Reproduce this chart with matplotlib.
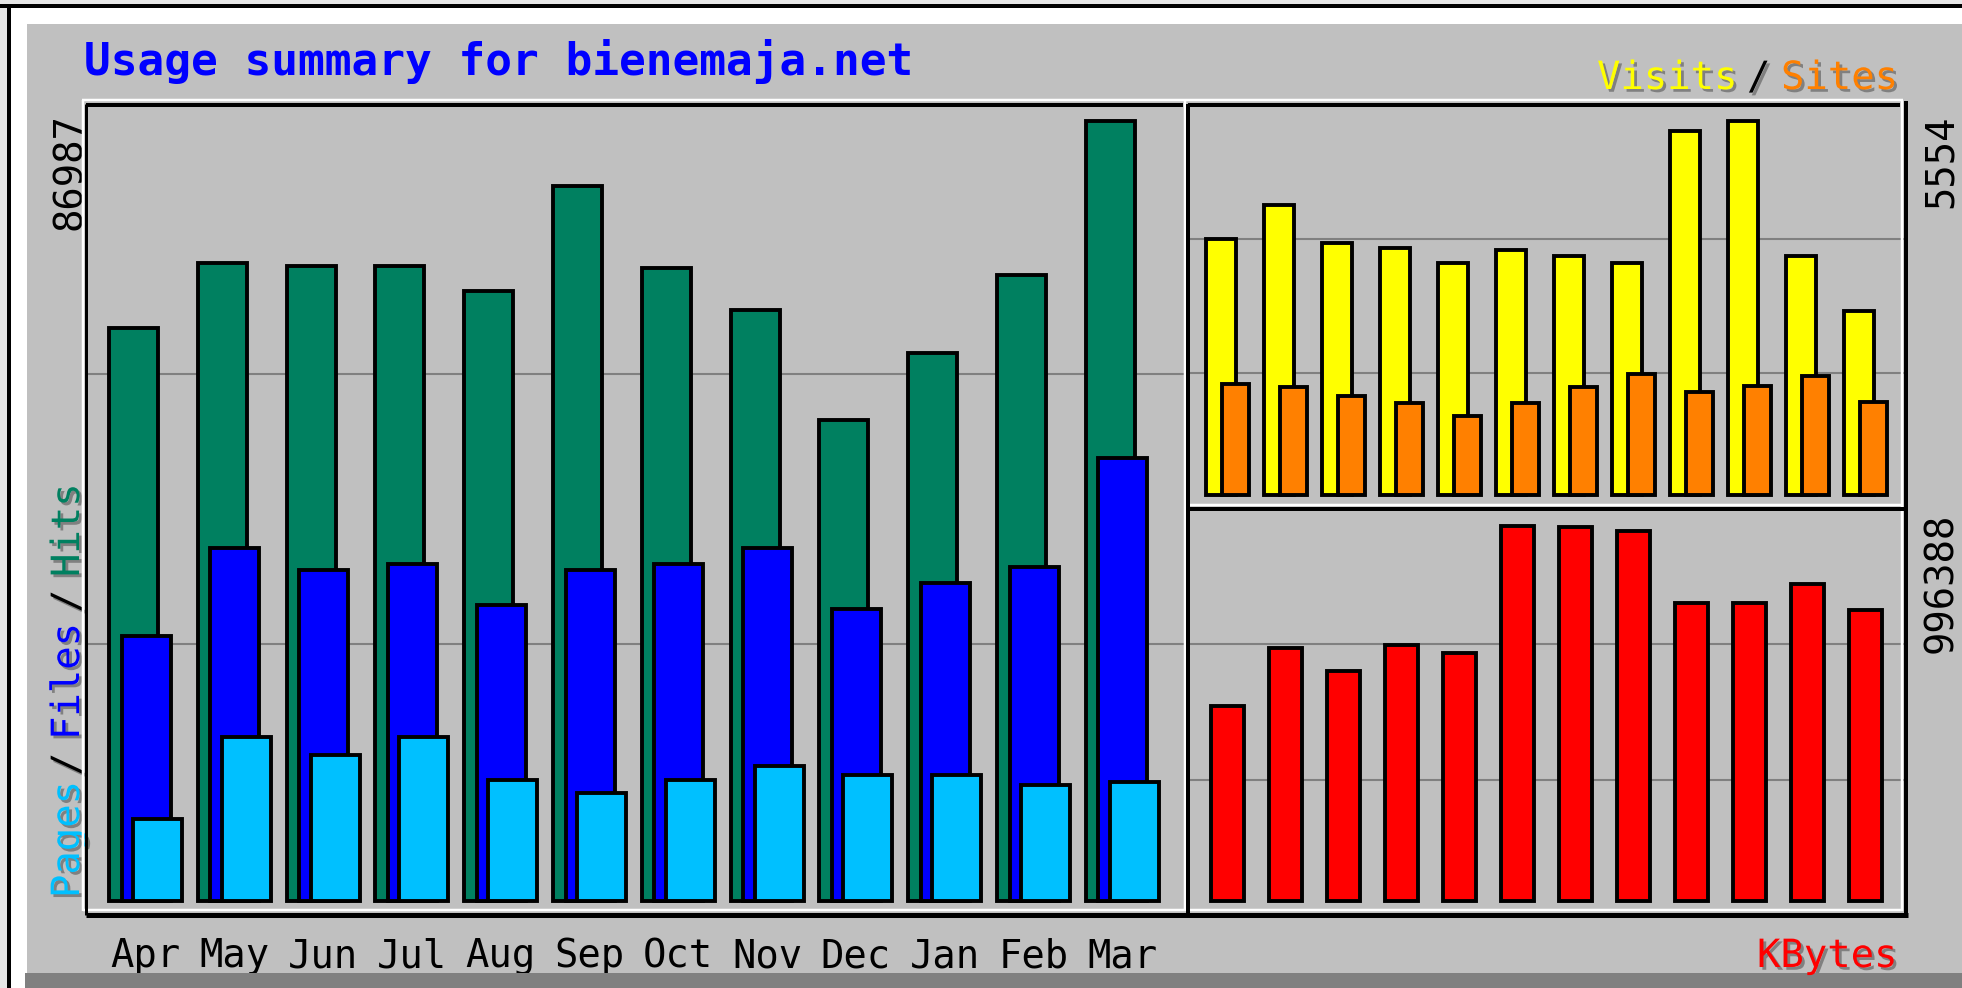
import numpy as np
import matplotlib
matplotlib.use("Agg")
import matplotlib.pyplot as plt
import matplotlib.patheffects as pe
from matplotlib.patches import Rectangle
from matplotlib.lines import Line2D
from matplotlib.transforms import blended_transform_factory

# monthly usage values
months = ["Apr", "May", "Jun", "Jul", "Aug", "Sep", "Oct", "Nov", "Dec", "Jan", "Feb", "Mar"]
hits = [63900, 71100, 70800, 70800, 68000, 79700, 70600, 65900, 53600, 61100, 69800, 86987]
files = [29500, 39400, 36900, 37600, 33000, 36900, 37600, 39400, 32600, 35500, 37300, 49400]
pages = [9200, 18300, 16300, 18300, 13500, 12000, 13500, 15000, 14000, 14000, 12900, 13300]
visits = [3805, 4305, 3747, 3673, 3438, 3644, 3556, 3438, 5407, 5554, 3556, 2733]
sites = [1646, 1601, 1469, 1366, 1175, 1366, 1601, 1793, 1528, 1616, 1763, 1381]
kbytes = [517900, 673000, 609900, 680900, 659900, 996388, 994800, 983200, 791300, 790500, 841300, 772900]

GREY = "#c0c0c0"
DKGREY = "#808080"
HITS_C = "#008060"
FILES_C = "#0000ff"
PAGES_C = "#00c0ff"
VISITS_C = "#ffff00"
SITES_C = "#ff8000"
KB_C = "#ff0000"
FONT = "DejaVu Sans Mono"

W, H = 1962, 988
fig = plt.figure(figsize=(W / 100, H / 100), dpi=100, facecolor=GREY)


def fx(x):
    return x / W


def fy(y):
    return 1 - y / H


def rect(x0, y0, x1, y1, color):
    fig.patches.append(Rectangle((fx(x0), fy(y1)), (x1 - x0) / W, (y1 - y0) / H,
                                 transform=fig.transFigure, facecolor=color,
                                 edgecolor="none", zorder=0))


def line(x0, y0, x1, y1, color, lw_px):
    fig.add_artist(Line2D([fx(x0), fx(x1)], [fy(y0), fy(y1)], transform=fig.transFigure,
                          color=color, lw=lw_px * 0.72, solid_capstyle="butt", zorder=5))


shadow = [pe.withSimplePatchShadow(offset=(2, -2), shadow_rgbFace=DKGREY, alpha=1.0)]


def label(x, y, s, color, size=28, rot=0, ha="left", weight="normal", fx_=None):
    fig.text(fx(x), fy(y), s, color=color, fontsize=size, family=FONT, weight=weight,
             rotation=rot, rotation_mode="anchor", ha=ha, va="baseline",
             path_effects=fx_)


# outer window frame
rect(0, 0, W, 4, "#e6e6e6")
rect(0, 0, 7, H, "#e6e6e6")
rect(0, 4, W, 8, "black")
rect(7, 4, 11, H, "black")
rect(11, 8, W, 24, "white")
rect(11, 8, 27, H, "white")
rect(25, 973, W, H, DKGREY)


def panel(x0, y0, x1, y1):
    ax = fig.add_axes([fx(x0), fy(y1), (x1 - x0) / W, (y1 - y0) / H])
    ax.set_facecolor(GREY)
    for s in ax.spines.values():
        s.set_visible(False)
    ax.set_xticks([])
    ax.set_yticks([])
    for f in (1 / 3, 2 / 3):
        ax.plot([0, 1], [f, f], transform=ax.transAxes, color=DKGREY, lw=1.5, zorder=1)
    return ax


def scale(ax, y0, y1, p0, p1, vmax):
    # zero sits at pixel p0, the maximum at pixel p1
    s = vmax / (p0 - p1)
    ax.set_ylim(-(y1 - p0) * s, vmax + (p1 - y0) * s)


idx = np.arange(len(months))

# main panel: hits / files / pages
MX0, MY0, MX1, MY1 = 86, 104, 1185, 914
m_unit, m_c0 = 88.8, 145.5
main = panel(MX0, MY0, MX1, MY1)
main.set_xlim((MX0 - m_c0) / m_unit, (MX1 - m_c0) / m_unit)
scale(main, MY0, MY1, 901, 121, max(hits))
bw = 49 / m_unit
main.bar(idx - 12 / m_unit, hits, width=bw, color=HITS_C, edgecolor="black", lw=2.8, zorder=2)
main.bar(idx + 0.5 / m_unit, files, width=bw, color=FILES_C, edgecolor="black", lw=2.8, zorder=3)
main.bar(idx + 12 / m_unit, pages, width=bw, color=PAGES_C, edgecolor="black", lw=2.8, zorder=4)

# right panels: visits / sites and kbytes
RX0, RX1 = 1188, 1904
r_unit, r_c0 = 58.0, 1227.5
top = panel(RX0, 104, RX1, 508)
top.set_xlim((RX0 - r_c0) / r_unit, (RX1 - r_c0) / r_unit)
scale(top, 104, 508, 495, 121, max(visits))
top.bar(idx - 6.5 / r_unit, visits, width=30 / r_unit, color=VISITS_C, edgecolor="black", lw=2.8, zorder=2)
top.bar(idx + 8 / r_unit, sites, width=27 / r_unit, color=SITES_C, edgecolor="black", lw=2.8, zorder=3)

bot = panel(RX0, 509, RX1, 915)
bot.set_xlim((RX0 - r_c0) / r_unit, (RX1 - r_c0) / r_unit)
scale(bot, 509, 915, 901, 526, max(kbytes))
bot.bar(idx, kbytes, width=33 / r_unit, color=KB_C, edgecolor="black", lw=2.8, zorder=2)

# bevelled panel edges
line(82, 100, 1185, 100, "white", 2.5)
line(83, 100, 83, 911, "white", 2.5)
line(83, 910, 1903, 910, "white", 2.5)
line(1185, 100, 1185, 911, "white", 2.5)
line(1185, 100, 1903, 100, "white", 2.5)
line(1902, 100, 1902, 911, "white", 2.5)
line(1185, 505, 1903, 505, "white", 2.5)
line(86, 105, 1183, 105, "black", 4)
line(86, 104, 86, 915, "black", 3)
line(1188, 105, 1900, 105, "black", 4)
line(1188, 104, 1188, 917, "black", 4)
line(1188, 509.5, 1906, 509.5, "black", 4)
line(1906, 101, 1906, 917, "black", 4)
line(86, 915, 1908, 915, "black", 5)

# titles and legends
label(84, 75, "Usage summary for bienemaja.net", FILES_C, size=32, weight="bold")
label(1597, 89, "Visits", VISITS_C, fx_=shadow)
label(1747, 89, "/", "black", fx_=shadow)
label(1781, 89, "Sites", SITES_C, fx_=shadow)
label(1757, 967, "KBytes", KB_C, fx_=shadow)

label(79, 898, "Pages", PAGES_C, rot=90, fx_=shadow)
label(79, 776, "/", "black", rot=90, fx_=shadow)
label(79, 740, "Files", FILES_C, rot=90, fx_=shadow)
label(79, 613, "/", "black", rot=90, fx_=shadow)
label(79, 577, "Hits", HITS_C, rot=90, fx_=shadow)

# maximum values of each scale
label(81, 113, str(max(hits)), "black", rot=90, ha="right")
label(1952, 115, str(max(visits)), "black", rot=90, ha="right")
label(1952, 513, str(max(kbytes)), "black", rot=90, ha="right")

# month names under the main panel
trans = blended_transform_factory(main.transData, fig.transFigure)
for i, m in enumerate(months):
    main.text(i, fy(967), m, transform=trans, ha="center", va="baseline",
              fontsize=28, family=FONT, color="black", clip_on=False)

fig.savefig("out.png", dpi=100, facecolor=GREY)
